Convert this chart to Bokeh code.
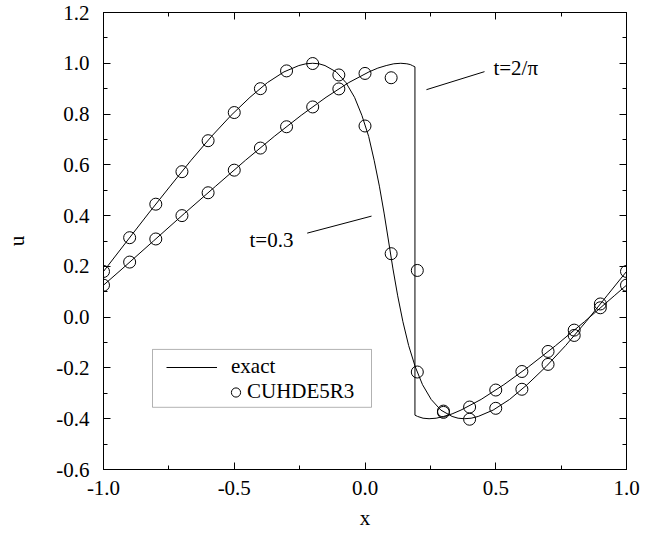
from bokeh.plotting import figure
from bokeh.models import (Range1d, FixedTicker, LinearAxis, CustomJSTickFormatter,
                          Label, Arrow, BoxAnnotation, Legend, LegendItem)
from bokeh.embed import file_html
from bokeh.resources import INLINE

# Exact solution, t = 0.3 (smooth profile)
exact_t03_x = [-1.0, -0.91, -0.827, -0.745, -0.665, -0.587, -0.512, -0.440, -0.373,
               -0.310, -0.253, -0.226, -0.20, -0.176, -0.153, -0.110, -0.073, -0.040,
               -0.012, 0.014, 0.035, 0.055, 0.073, 0.090, 0.107, 0.125, 0.145, 0.167,
               0.192, 0.220, 0.253, 0.290, 0.333, 0.356, 0.38, 0.406, 0.433, 0.490,
               0.553, 0.620, 0.692, 0.767, 0.845, 0.925, 1.0]
exact_t03_u = [0.180, 0.300, 0.410, 0.516, 0.618, 0.712, 0.795, 0.866, 0.924,
               0.966, 0.991, 0.998, 1.000, 0.998, 0.991, 0.966, 0.924, 0.866,
               0.795, 0.712, 0.618, 0.516, 0.410, 0.300, 0.190, 0.084, -0.018, -0.112,
               -0.195, -0.266, -0.324, -0.366, -0.391, -0.398, -0.400, -0.398, -0.391, -0.366,
               -0.324, -0.266, -0.195, -0.112, -0.018, 0.084, 0.180]

# Exact solution, t = 2/pi (with shock near x = 0.19)
exact_t2pi_x = [-1.0, -0.929, -0.809, -0.689, -0.571, -0.457, -0.347, -0.244, -0.149,
                -0.062, 0.015, 0.049, 0.081, 0.110, 0.137, 0.160, 0.173, 0.181, 0.191,
                0.191, 0.201, 0.222, 0.245, 0.272, 0.301, 0.333, 0.367, 0.444, 0.531,
                0.626, 0.729, 0.839, 0.953, 1.0]
exact_t2pi_u = [0.126, 0.190, 0.300, 0.410, 0.516, 0.618, 0.712, 0.795, 0.866,
                0.924, 0.966, 0.981, 0.991, 0.998, 1.000, 0.998, 0.995, 0.991, 0.986,
                -0.386, -0.391, -0.398, -0.400, -0.398, -0.391, -0.381, -0.366, -0.324, -0.266,
                -0.195, -0.112, -0.018, 0.084, 0.126]

# CUHDE5R3 scheme, sampled every 0.1
scheme_x = [-1.0, -0.9, -0.8, -0.7, -0.6, -0.5, -0.4, -0.3, -0.2, -0.1, 0.0,
            0.1, 0.2, 0.3, 0.4, 0.5, 0.6, 0.7, 0.8, 0.9, 1.0]
scheme_t03 = [0.180, 0.313, 0.445, 0.573, 0.695, 0.806, 0.900, 0.970, 0.999, 0.954, 0.753,
              0.250, -0.216, -0.370, -0.402, -0.359, -0.284, -0.186, -0.072, 0.052, 0.180]
scheme_t2pi = [0.126, 0.217, 0.308, 0.400, 0.490, 0.579, 0.666, 0.750, 0.828, 0.899, 0.960,
               0.943, 0.184, -0.375, -0.354, -0.287, -0.214, -0.135, -0.051, 0.037, 0.126]

x_ticks = [-1.0, -0.5, 0.0, 0.5, 1.0]
x_minor = [-0.75, -0.25, 0.25, 0.75]
y_ticks = [-0.6, -0.4, -0.2, 0.0, 0.2, 0.4, 0.6, 0.8, 1.0, 1.2]
y_minor = [-0.5, -0.3, -0.1, 0.1, 0.3, 0.5, 0.7, 0.9, 1.1]

FONT = "Liberation Serif"
FSIZE = "21px"

p = figure(width=660, height=535, x_range=Range1d(-1, 1), y_range=Range1d(-0.6, 1.2),
           output_backend="svg", toolbar_location=None,
           min_border_left=103, min_border_right=34, min_border_top=12, min_border_bottom=66)
p.background_fill_color = "white"
p.border_fill_color = "white"
p.outline_line_color = "black"
p.outline_line_width = 1
p.xgrid.visible = False
p.ygrid.visible = False

bottom_ax = p.below[0]
left_ax = p.left[0]

fmt = CustomJSTickFormatter(code="return tick.toFixed(1);")
blank = CustomJSTickFormatter(code="return '';")

def style_axis(ax, ticks, minor, labelled):
    ax.ticker = FixedTicker(ticks=ticks, minor_ticks=minor)
    ax.major_tick_in = 7
    ax.major_tick_out = 0
    ax.minor_tick_in = 4
    ax.minor_tick_out = 0
    ax.axis_line_color = "black"
    ax.major_tick_line_color = "black"
    ax.minor_tick_line_color = "black"
    ax.major_label_text_font = FONT
    ax.major_label_text_color = "black"
    if labelled:
        ax.formatter = fmt
        ax.major_label_text_font_size = FSIZE
    else:
        ax.formatter = blank
        ax.major_label_text_font_size = "0px"

style_axis(bottom_ax, x_ticks, x_minor, True)
style_axis(left_ax, y_ticks, y_minor, True)
bottom_ax.major_label_standoff = 11
left_ax.major_label_standoff = 14

top_ax = LinearAxis()
right_ax = LinearAxis()
style_axis(top_ax, x_ticks, x_minor, False)
style_axis(right_ax, y_ticks, y_minor, False)
p.add_layout(top_ax, "above")
p.add_layout(right_ax, "right")

bottom_ax.axis_label = "x"
left_ax.axis_label = "u"
for ax in (bottom_ax, left_ax):
    ax.axis_label_text_font = FONT
    ax.axis_label_text_font_size = FSIZE
    ax.axis_label_text_font_style = "normal"
    ax.axis_label_text_color = "black"
bottom_ax.axis_label_standoff = 8
left_ax.axis_label_standoff = 24

# exact curves
p.line(exact_t03_x, exact_t03_u, line_color="black", line_width=1)
p.line(exact_t2pi_x, exact_t2pi_u, line_color="black", line_width=1)

# scheme results
p.scatter(scheme_x, scheme_t03, marker="circle", size=12, fill_color=None,
          line_color="black", line_width=1)
p.scatter(scheme_x, scheme_t2pi, marker="circle", size=12, fill_color=None,
          line_color="black", line_width=1)

# curve labels with leader lines
p.add_layout(Label(x=-0.4417, y=0.302, text="t=0.3", text_baseline="middle",
                   text_align="left", text_font=FONT, text_font_size=FSIZE, text_color="black"))
p.add_layout(Arrow(end=None, x_start=-0.221, y_start=0.331, x_end=0.025, y_end=0.398,
                   line_color="black", line_width=1))
p.add_layout(Label(x=0.491, y=0.980, text="t=2/\u03c0", text_baseline="middle",
                   text_align="left", text_font=FONT, text_font_size=FSIZE, text_color="black"))
p.add_layout(Arrow(end=None, x_start=0.235, y_start=0.896, x_end=0.457, y_end=0.967,
                   line_color="black", line_width=1))

# legend: framed box with two rows; key renderers hold no visible points
p.add_layout(BoxAnnotation(left=-0.8126, right=0.0249, top=-0.127, bottom=-0.355,
                           fill_alpha=0, line_color="black", line_width=1))
nan = float("nan")
key_line = p.line([nan], [nan], line_color="black", line_width=1)
key_dot = p.scatter([nan], [nan], marker="circle", size=9, fill_color=None,
                    line_color="black", line_width=1)

def make_legend(renderer, label, loc, gw, standoff):
    leg = Legend(items=[LegendItem(label=label, renderers=[renderer])], location=loc,
                 glyph_width=gw, glyph_height=24, label_height=24, label_standoff=standoff,
                 padding=0, margin=0, spacing=0, border_line_alpha=0, background_fill_alpha=0,
                 label_text_font=FONT, label_text_font_size=FSIZE, label_text_color="black")
    p.add_layout(leg)

make_legend(key_line, "exact", (63, 90), 51, 14)
make_legend(key_dot, "CUHDE5R3", (121, 65), 23, 0)

open("out.html", "w").write(file_html(p, INLINE))
